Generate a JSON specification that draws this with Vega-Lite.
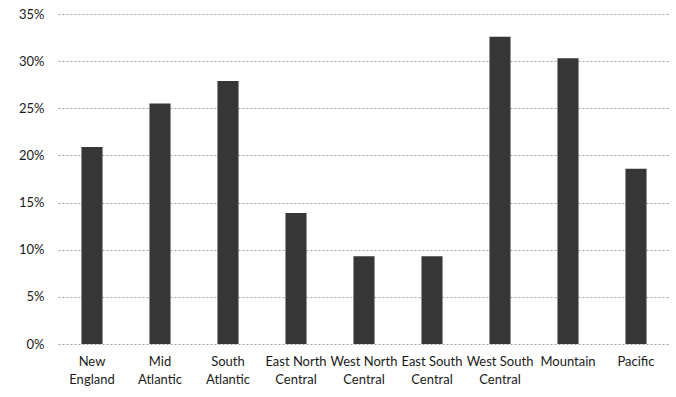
{
  "$schema": "https://vega.github.io/schema/vega-lite/v6.json",
  "width": 612,
  "height": 330,
  "autosize": "none",
  "padding": {"left": 58, "top": 14, "right": 6, "bottom": 53},
  "background": "white",
  "data": {
    "values": [
      {"region": "New England", "share": 0.209},
      {"region": "Mid Atlantic", "share": 0.255},
      {"region": "South Atlantic", "share": 0.279},
      {"region": "East North Central", "share": 0.139},
      {"region": "West North Central", "share": 0.093},
      {"region": "East South Central", "share": 0.093},
      {"region": "West South Central", "share": 0.326},
      {"region": "Mountain", "share": 0.303},
      {"region": "Pacific", "share": 0.186}
    ]
  },
  "mark": {"type": "bar", "color": "#363636"},
  "encoding": {
    "x": {
      "field": "region",
      "type": "nominal",
      "sort": null,
      "title": null,
      "scale": {"paddingInner": 0.69, "paddingOuter": 0.345},
      "axis": {
        "labelAngle": 0,
        "ticks": false,
        "domain": false,
        "labelPadding": 11,
        "labelFont": "Lato",
        "labelFontSize": 13,
        "labelColor": "#1a1a1a",
        "labelLineHeight": 18,
        "labelExpr": "lastindexof(datum.label, ' ') > 0 ? [substring(datum.label, 0, lastindexof(datum.label, ' ')), substring(datum.label, lastindexof(datum.label, ' ') + 1)] : datum.label"
      }
    },
    "y": {
      "field": "share",
      "type": "quantitative",
      "title": null,
      "scale": {"domain": [0, 0.35], "nice": false},
      "axis": {
        "format": ".0%",
        "values": [0, 0.05, 0.1, 0.15, 0.2, 0.25, 0.3, 0.35],
        "ticks": false,
        "domain": false,
        "labelPadding": 14,
        "labelFont": "Lato",
        "labelFontSize": 13,
        "labelColor": "#1a1a1a",
        "gridColor": "#9e9e9e",
        "gridDash": [2, 2],
        "gridWidth": 1
      }
    }
  },
  "config": {"view": {"stroke": null}}
}
